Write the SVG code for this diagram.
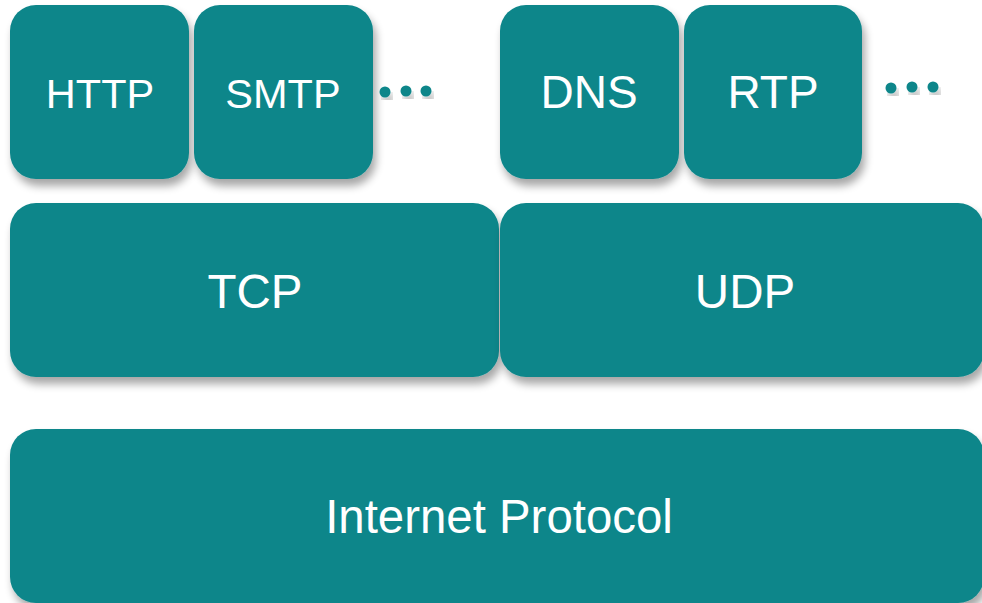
<svg xmlns="http://www.w3.org/2000/svg" width="982" height="603" viewBox="0 0 982 603">
  <style>
    .box { fill: #0F868A; filter: url(#shadow); }
    .lbl { fill: #FFFFFF; font-family: "Liberation Sans", Arial, sans-serif; text-anchor: middle; }
    .s41 { font-size: 41.5px; }
    .s46 { font-size: 46px; }
    .s47 { font-size: 47.4px; }
    .s48 { font-size: 47.5px; }
    .dot { fill: #0F868A; filter: url(#shadow); }
  </style>
  <defs>
    <filter id="shadow" x="-10%" y="-10%" width="130%" height="130%">
      <feGaussianBlur in="SourceAlpha" stdDeviation="4"/>
      <feOffset dx="3" dy="7" result="off"/>
      <feComponentTransfer><feFuncA type="linear" slope="0.35"/></feComponentTransfer>
      <feMerge><feMergeNode/><feMergeNode in="SourceGraphic"/></feMerge>
    </filter>
  </defs>
  <rect width="982" height="603" fill="#FFFFFF"/>

  <!-- network layer -->
  <g id="ip">
    <rect class="box" x="10" y="429" width="974" height="174" rx="26"/>
    <text class="lbl s47" x="499" y="533">Internet Protocol</text>
  </g>

  <!-- transport layer -->
  <g id="tcp">
    <rect class="box" x="10" y="203" width="489" height="174" rx="26"/>
    <text class="lbl s48" x="255" y="308">TCP</text>
  </g>
  <g id="udp">
    <rect class="box" x="500" y="203" width="484" height="174" rx="26"/>
    <text class="lbl s48" x="745" y="308">UDP</text>
  </g>

  <!-- application layer -->
  <g id="http">
    <rect class="box" x="10" y="5" width="179" height="174" rx="26"/>
    <text class="lbl s41" x="100" y="108">HTTP</text>
  </g>
  <g id="smtp">
    <rect class="box" x="194" y="5" width="179" height="174" rx="26"/>
    <text class="lbl s41" x="283" y="108">SMTP</text>
  </g>
  <g id="more-tcp">
    <circle class="dot" cx="385" cy="92" r="5.5"/>
    <circle class="dot" cx="406" cy="91" r="5.5"/>
    <circle class="dot" cx="426" cy="91" r="5.5"/>
  </g>
  <g id="dns">
    <rect class="box" x="500" y="5" width="179" height="174" rx="26"/>
    <text class="lbl s46" x="589" y="108">DNS</text>
  </g>
  <g id="rtp">
    <rect class="box" x="684" y="5" width="178" height="174" rx="26"/>
    <text class="lbl s46" x="773" y="108">RTP</text>
  </g>
  <g id="more-udp">
    <circle class="dot" cx="891" cy="88" r="5.5"/>
    <circle class="dot" cx="912" cy="87" r="5.5"/>
    <circle class="dot" cx="933" cy="87" r="5.5"/>
  </g>

  <g id="connectors"/>
</svg>
